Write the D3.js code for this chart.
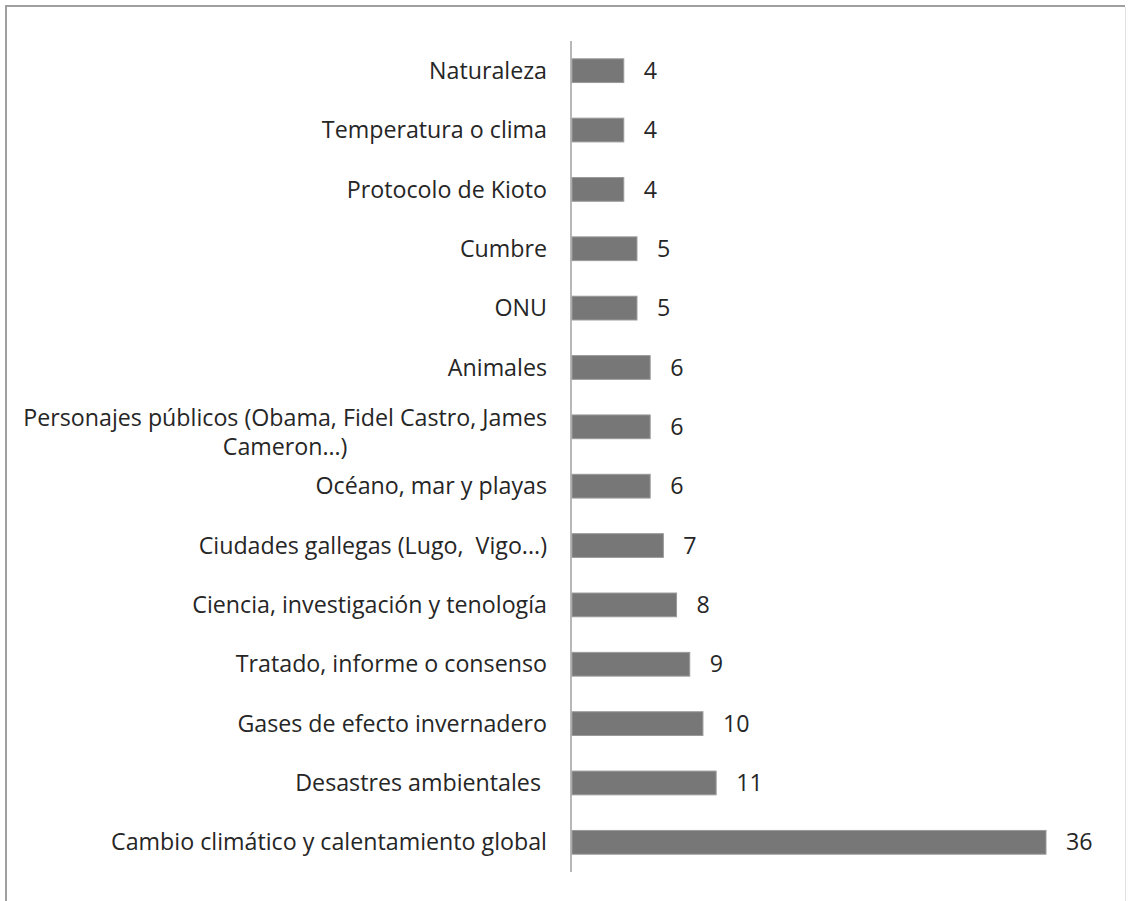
<!DOCTYPE html>
<html><head><meta charset="utf-8">
<script src="https://cdn.jsdelivr.net/npm/d3@7"></script>
<style>body{margin:0;background:#fff}svg{display:block}</style>
</head><body>
<script>
const categories = [
  "Naturaleza",
  "Temperatura o clima",
  "Protocolo de Kioto",
  "Cumbre",
  "ONU",
  "Animales",
  "Personajes públicos (Obama, Fidel Castro, James|Cameron…)",
  "Océano, mar y playas",
  "Ciudades gallegas (Lugo,  Vigo...)",
  "Ciencia, investigación y tenología",
  "Tratado, informe o consenso",
  "Gases de efecto invernadero",
  "Desastres ambientales ",
  "Cambio climático y calentamiento global"
];
const values = [4, 4, 4, 5, 5, 6, 6, 6, 7, 8, 9, 10, 11, 36];

const W = 1129, H = 901;
const svg = d3.select("body").append("svg").attr("width", W).attr("height", H);

// frame
svg.append("line").attr("x1", 6).attr("y1", 6).attr("x2", 6).attr("y2", H).attr("stroke", "#a0a0a0").attr("stroke-width", 2);
svg.append("line").attr("x1", 5).attr("y1", 6).attr("x2", 1125).attr("y2", 6).attr("stroke", "#a0a0a0").attr("stroke-width", 2);
svg.append("line").attr("x1", 1125.5).attr("y1", 7).attr("x2", 1125.5).attr("y2", H).attr("stroke", "#e2e2e2").attr("stroke-width", 1);

const y = d3.scaleBand().domain(categories).range([41, 872]).paddingInner(0.6).paddingOuter(0.3);
const x = d3.scaleLinear().domain([0, 36]).range([571, 1046]);

const font = "'Open Sans', sans-serif";
const probe = svg.append("text").attr("font-family", font).attr("font-size", 20).text("Cambio climático y calentamiento global");
const wProbe = probe.node().getComputedTextLength();
probe.remove();
const fs = 20 * 436 / wProbe;

svg.selectAll("rect.bar").data(values).join("rect").attr("class", "bar")
  .attr("x", x(0) + 1).attr("y", (d, i) => y(categories[i]))
  .attr("width", d => x(d) - x(0) - 1).attr("height", y.bandwidth())
  .attr("fill", "#777777").attr("stroke", "#9a9a9a").attr("stroke-width", 1);

svg.append("line").attr("x1", x(0)).attr("x2", x(0)).attr("y1", 41).attr("y2", 872)
  .attr("stroke", "#a0a0a0").attr("stroke-width", 1.5);

const lab = svg.append("g").attr("font-family", font).attr("font-size", fs).attr("fill", "#262626");
categories.forEach((c, i) => {
  const cy = y(c) + y.bandwidth() / 2;
  const lines = c.split("|");
  if (lines.length === 1) {
    lab.append("text").attr("x", 547).attr("y", cy).attr("dy", "0.35em")
      .attr("text-anchor", "end").style("white-space", "pre").text(c);
  } else {
    const t1 = lab.append("text").attr("x", 547).attr("y", cy - 9).attr("dy", "0.35em")
      .attr("text-anchor", "end").style("white-space", "pre").text(lines[0]);
    const w1 = t1.node().getComputedTextLength();
    lab.append("text").attr("x", 547 - w1 / 2).attr("y", cy + 20).attr("dy", "0.35em")
      .attr("text-anchor", "middle").text(lines[1]);
  }
});

svg.append("g").attr("font-family", font).attr("font-size", fs).attr("fill", "#262626")
  .selectAll("text").data(values).join("text")
  .attr("x", d => x(d) + 20).attr("y", (d, i) => y(categories[i]) + y.bandwidth() / 2)
  .attr("dy", "0.35em").text(d => d);
</script>
</body></html>
